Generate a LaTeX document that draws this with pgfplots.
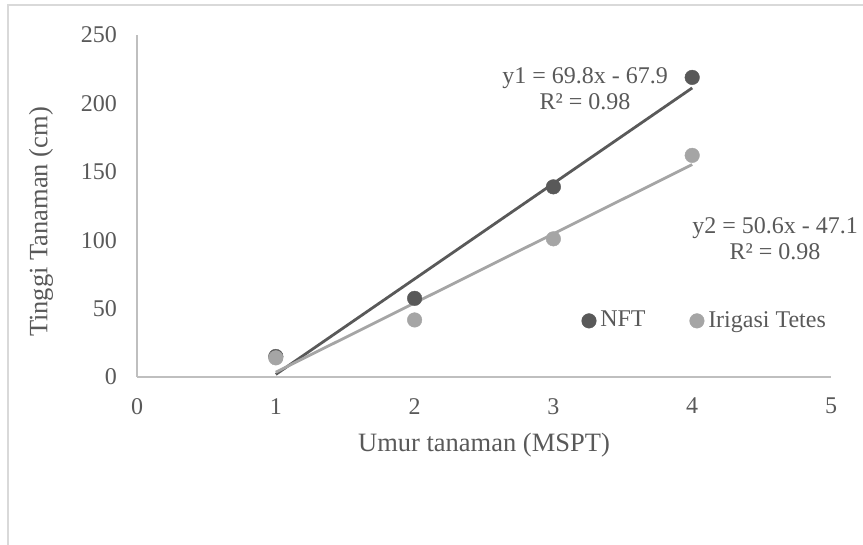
\documentclass[border=0pt]{standalone}
\usepackage{fontspec}
\setmainfont{Liberation Serif}
\usepackage{pgfplots}
\pgfplotsset{compat=1.18}
\definecolor{dk}{HTML}{595959}
\definecolor{lt}{HTML}{A5A5A5}
\definecolor{ax}{HTML}{BFBFBF}
\definecolor{fr}{HTML}{D9D9D9}
\begin{document}
\begin{tikzpicture}
\useasboundingbox (0,0) rectangle (863bp,545bp);
\draw[fr, line width=1.5bp] (8bp,-5bp) -- (8bp,540bp) -- (870bp,540bp);
\begin{axis}[
  at={(137bp,168bp)}, anchor=origin,
  scale only axis, width=694bp, height=342bp,
  xmin=0, xmax=5, ymin=0, ymax=250,
  axis lines=left, axis line style={ax, line width=1.2bp, -},
  xtick={0,1,2,3,4,5}, ytick={0,50,100,150,200,250},
  major tick length=0pt,
  /pgf/number format/assume math mode=true,
  tick label style={font=\fontsize{24bp}{28bp}\selectfont, text=dk, inner sep=0pt},
  xticklabel style={anchor=north, yshift=-21bp},
  yticklabel style={anchor=east, xshift=-20bp},
  xlabel={Umur tanaman (MSPT)}, ylabel={Tinggi Tanaman (cm)},
  label style={font=\fontsize{26.5bp}{30bp}\selectfont, text=dk, inner sep=0pt},
  xlabel style={at={(axis description cs:0.5,-0.1623)}, anchor=north},
  ylabel style={at={(axis description cs:-0.1206,0.453)}, anchor=south},
  clip=false,
  legend columns=2,
  legend cell align=left,
  legend style={draw=none, fill=none, inner sep=0pt,
    at={(axis description cs:0.6405,0.167)}, anchor=west,
    nodes={inner sep=0pt, font=\fontsize{24bp}{28bp}\selectfont, text=dk},
    /tikz/every odd column/.style={column sep=4bp},
    /tikz/every even column/.style={column sep=44bp}},
  legend image code/.code={\draw[#1] plot coordinates {(7.5bp,-1bp)};},
]
\addplot[only marks, mark=*, mark size=7.3bp, color=dk, mark options={draw=dk, fill=dk}]
  coordinates {(1,15) (2,57.5) (3,139) (4,219)};
\addlegendentry{NFT}
\addplot[only marks, mark=*, mark size=7.3bp, color=lt, mark options={draw=lt, fill=lt}]
  coordinates {(1,14) (2,41.7) (3,101) (4,162)};
\addlegendentry{Irigasi Tetes}
\addplot[dk, line width=2.8bp, forget plot] coordinates {(1,1.9) (4,211.3)};
\addplot[lt, line width=2.8bp, forget plot] coordinates {(1,3.5) (4,155.3)};
\node[anchor=base, text=dk, inner sep=0pt, font=\fontsize{24bp}{28bp}\selectfont] at (axis cs:3.228,214.5) {y1 = 69.8x - 67.9};
\node[anchor=base, text=dk, inner sep=0pt, font=\fontsize{24bp}{28bp}\selectfont] at (axis cs:3.228,195.2) {R² = 0.98};
\node[anchor=base, text=dk, inner sep=0pt, font=\fontsize{24bp}{28bp}\selectfont] at (axis cs:4.597,104.9) {y2 = 50.6x - 47.1};
\node[anchor=base, text=dk, inner sep=0pt, font=\fontsize{24bp}{28bp}\selectfont] at (axis cs:4.597,85.9) {R² = 0.98};
\end{axis}
\end{tikzpicture}
\end{document}
